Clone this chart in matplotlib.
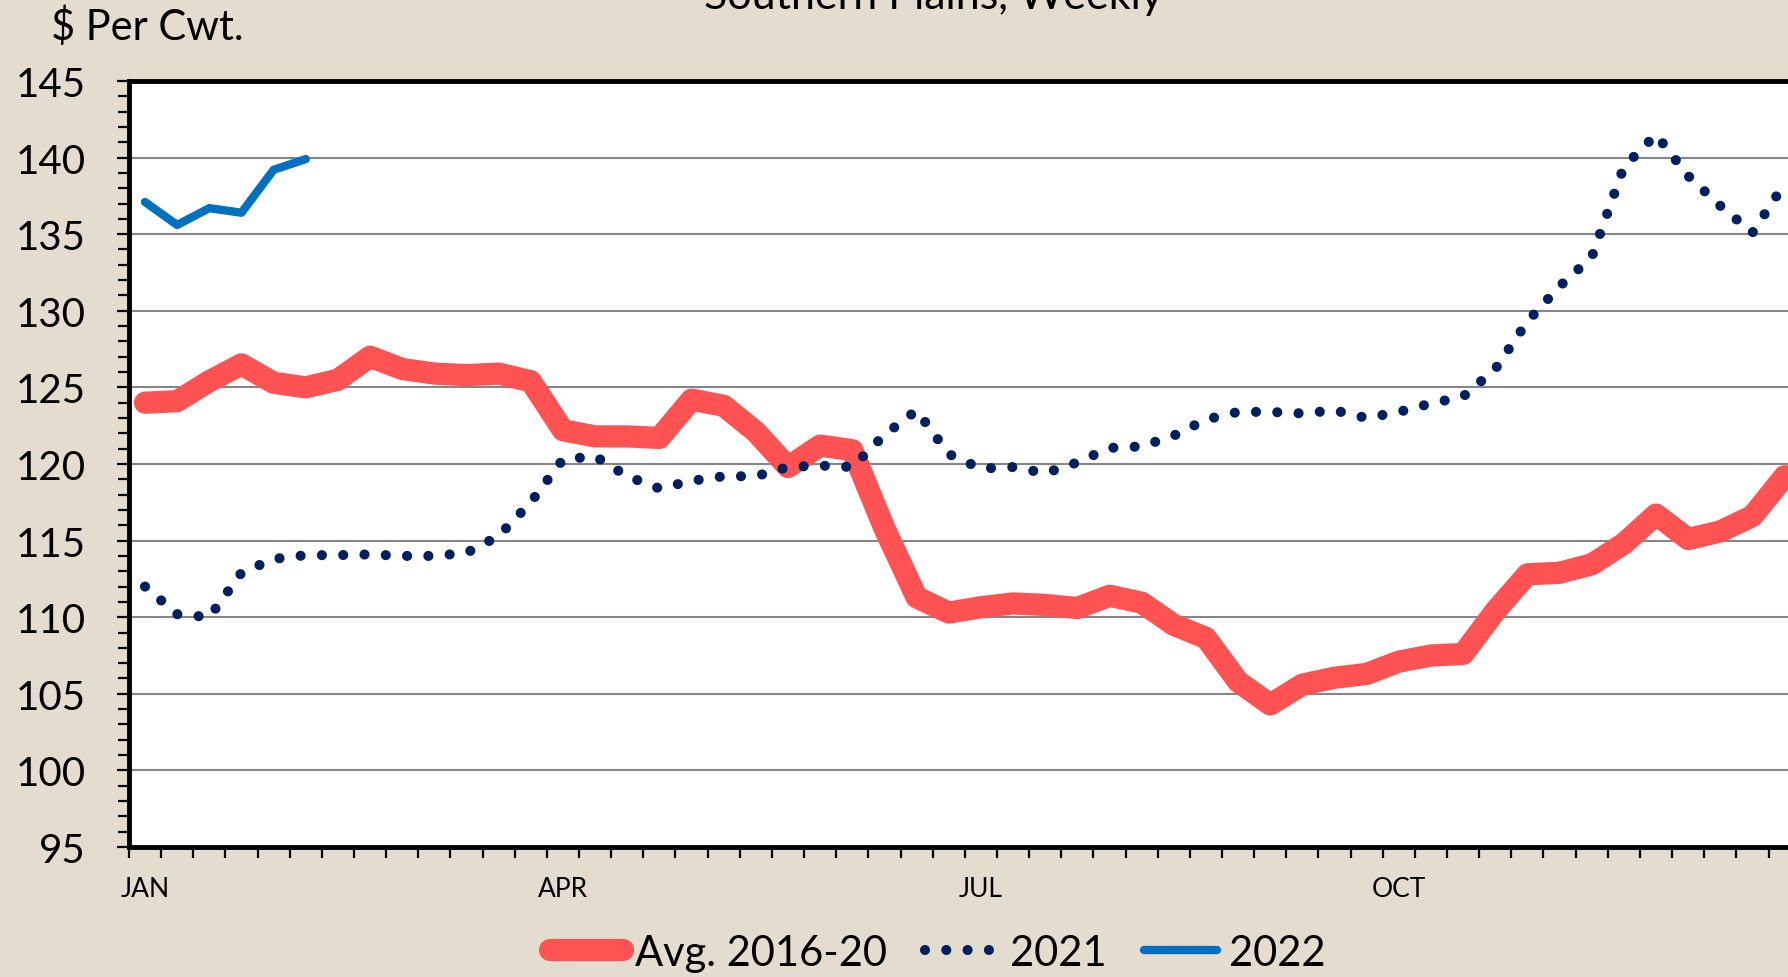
import numpy as np
import matplotlib
matplotlib.use("Agg")
import matplotlib.pyplot as plt
from matplotlib.ticker import FixedLocator, MultipleLocator, NullFormatter

plt.rcParams['font.family'] = ['Lato', 'DejaVu Sans']

# ---------------- data ----------------
weeks = list(range(1, 53))
avg_2016_20 = [124.0, 124.1, 125.4, 126.5, 125.3, 125.0, 125.5, 127.0, 126.2, 125.9,
               125.8, 125.9, 125.4, 122.2, 121.8, 121.8, 121.7, 124.2, 123.8, 122.1,
               119.8, 121.2, 120.9, 115.8, 111.3, 110.3, 110.65, 110.9, 110.8, 110.6,
               111.4, 110.95, 109.5, 108.65, 105.8, 104.3, 105.6, 106.05, 106.3, 107.1,
               107.5, 107.6, 110.4, 112.8, 112.9, 113.45, 114.8, 116.7, 115.1, 115.6,
               116.6, 119.2]
y2021 = [112.0, 110.2, 110.0, 112.9, 113.8, 114.05, 114.05, 114.1, 114.0, 114.0,
         114.2, 115.3, 117.5, 120.3, 120.5, 119.2, 118.4, 118.9, 119.2, 119.2,
         119.8, 119.9, 119.8, 121.9, 123.5, 120.65, 119.7, 119.8, 119.4, 120.1,
         121.05, 121.15, 121.85, 122.9, 123.4, 123.4, 123.3, 123.5, 123.0, 123.4,
         123.95, 124.4, 126.2, 129.3, 131.6, 133.5, 139.4, 141.5, 138.8, 136.85,
         135.1, 138.3]
y2022 = [137.1, 135.6, 136.7, 136.4, 139.2, 139.9]

month_labels = ['JAN', 'APR', 'JUL', 'OCT']
month_weeks = [1, 14, 27, 40]
series_labels = ['Avg. 2016-20', '2021', '2022']

# ---------------- figure ----------------
fig = plt.figure(figsize=(17.88, 9.78), dpi=100)
fig.patch.set_facecolor('#E4DCCF')

ax = fig.add_axes([0.0721, 0.1329, 0.935, 0.7833])
ax.set_facecolor('white')

l1, = ax.plot(weeks, avg_2016_20, color='#FF5353', lw=16,
              solid_capstyle='round', solid_joinstyle='round',
              label=series_labels[0], zorder=3)
l2, = ax.plot(weeks, y2021, color='#002060', lw=7.3,
              linestyle=(0, (0.001, 2.1)), dash_capstyle='round',
              label=series_labels[1], zorder=4)
l3, = ax.plot(weeks[:len(y2022)], y2022, color='#0070C0', lw=6,
              solid_capstyle='round', solid_joinstyle='round',
              label=series_labels[2], zorder=5)

ax.set_xlim(0.5, 52.5)
ax.set_ylim(95, 145)

# y axis
ax.yaxis.set_major_locator(MultipleLocator(5))
ax.yaxis.set_minor_locator(MultipleLocator(1))
ax.tick_params(axis='y', which='major', direction='out', length=9, width=1.6,
               labelsize=29, pad=22, colors='black')
ax.tick_params(axis='y', which='minor', direction='out', length=8, width=1.6)
ax.grid(axis='y', which='major', color='#868686', lw=1.5, zorder=1)
ax.set_axisbelow(True)

# x axis: tick marks at week boundaries, month labels at week centers
ax.xaxis.set_major_locator(FixedLocator(np.arange(0.5, 53, 1.0)))
ax.xaxis.set_major_formatter(NullFormatter())
ax.xaxis.set_minor_locator(FixedLocator(month_weeks))
ax.set_xticklabels(month_labels, minor=True)
ax.tick_params(axis='x', which='major', direction='out', length=8, width=1.6)
ax.tick_params(axis='x', which='minor', length=0, labelsize=19, pad=21)

for s in ['left', 'bottom', 'top']:
    ax.spines[s].set_linewidth(3.5)
    ax.spines[s].set_color('black')
ax.spines['right'].set_visible(False)

# texts
fig.text(51 / 1788, 1 - 27 / 978, '$ Per Cwt.', fontsize=30, ha='left', va='center')
fig.text(933 / 1788, 1 - 9 / 978, 'Southern Plains, Weekly', fontsize=31,
         ha='center', va='baseline')

fig.legend(handles=[l1, l2, l3], labels=series_labels, loc='center',
           bbox_to_anchor=(0.5245, 0.0245), ncol=3, frameon=False, fontsize=30,
           handlelength=1.75, handletextpad=0.3, columnspacing=0.9,
           borderaxespad=0, borderpad=0)

fig.savefig('out.png', dpi=100, facecolor=fig.get_facecolor())
